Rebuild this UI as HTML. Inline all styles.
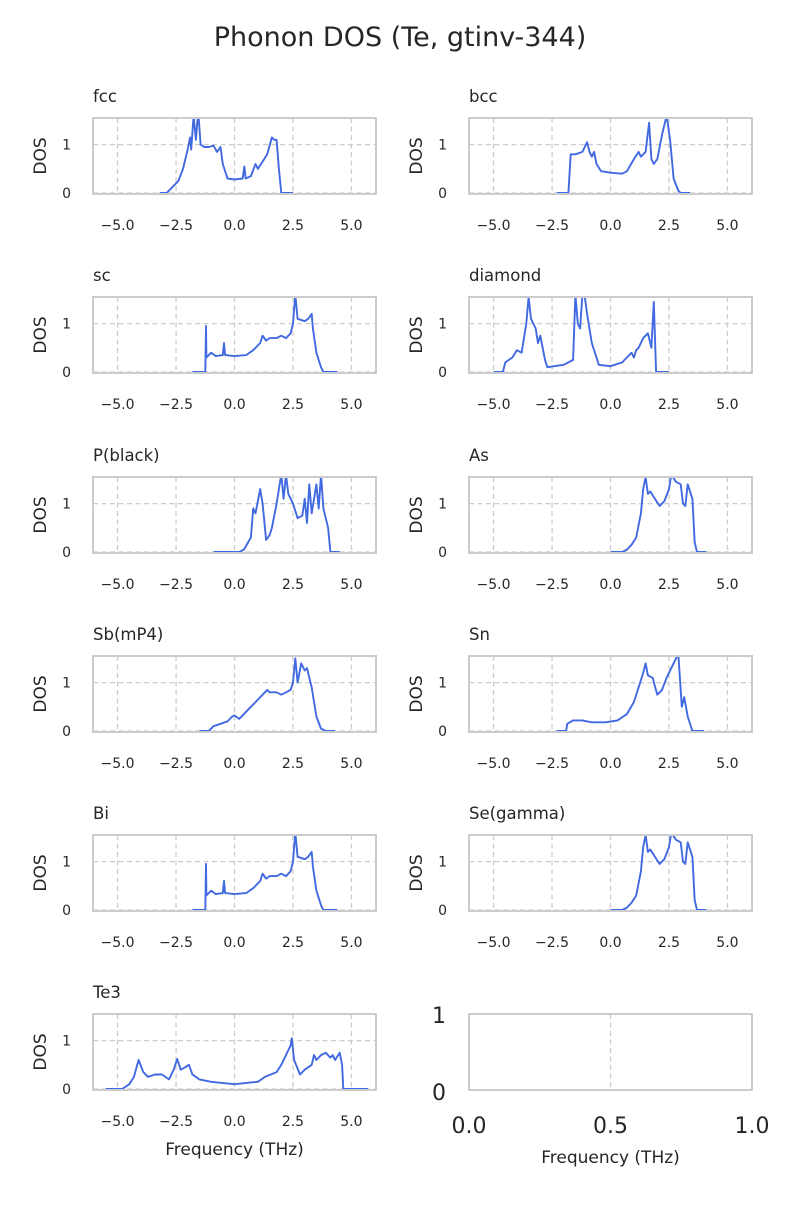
<!DOCTYPE html>
<html><head><meta charset="utf-8"><style>
body{margin:0;background:#fff;}
svg text{font-family:"DejaVu Sans","Liberation Sans",sans-serif;fill:#262626;}
</style></head><body>
<svg id="fig" width="800" height="1200" viewBox="0 0 800 1200" xmlns="http://www.w3.org/2000/svg">
<rect width="800" height="1200" fill="#fff"/>
<text x="400" y="46" font-size="27" text-anchor="middle">Phonon DOS (Te, gtinv-344)</text>
</svg>
<script>
const panelNames = ["fcc","bcc","sc","diamond","P(black)","As","Sb(mP4)","Sn","Bi","Se(gamma)","Te3"];
const freqs = [
[-3.2,-2.9,-2.7,-2.4,-2.2,-2.0,-1.9,-1.85,-1.75,-1.65,-1.55,-1.45,-1.3,-1.1,-0.9,-0.75,-0.6,-0.5,-0.3,0,0.35,0.42,0.48,0.7,0.9,1.0,1.2,1.4,1.6,1.7,1.8,1.9,2.0,2.5],
[-2.3,-1.8,-1.7,-1.5,-1.2,-1.0,-0.9,-0.8,-0.7,-0.6,-0.4,0,0.5,0.7,1.0,1.2,1.3,1.5,1.65,1.75,1.85,2.0,2.2,2.4,2.55,2.7,2.9,3.0,3.4],
[-1.8,-1.25,-1.22,-1.2,-1.0,-0.8,-0.5,-0.45,-0.4,0,0.5,0.8,1.1,1.2,1.35,1.5,1.8,2.0,2.2,2.4,2.5,2.6,2.7,3.0,3.15,3.3,3.35,3.5,3.7,3.8,4.4],
[-5.0,-4.6,-4.5,-4.2,-4.0,-3.8,-3.6,-3.5,-3.4,-3.2,-3.1,-3.0,-2.8,-2.7,-2.0,-1.6,-1.5,-1.4,-1.3,-1.2,-1.1,-1.0,-0.8,-0.5,0,0.5,0.7,0.9,1.0,1.1,1.2,1.4,1.6,1.75,1.85,1.95,2.5],
[-0.9,0.2,0.4,0.7,0.8,0.9,1.1,1.2,1.35,1.5,1.6,1.8,1.9,2.0,2.1,2.2,2.3,2.5,2.7,2.9,3.0,3.1,3.2,3.3,3.5,3.6,3.7,3.8,4.0,4.1,4.5],
[0,0.5,0.7,0.9,1.1,1.3,1.4,1.5,1.6,1.7,1.9,2.1,2.3,2.5,2.6,2.8,3.0,3.1,3.2,3.3,3.5,3.6,3.7,4.1],
[-1.5,-1.1,-0.9,-0.6,-0.3,-0.1,0,0.2,0.4,0.7,1.0,1.2,1.4,1.5,1.8,2.0,2.2,2.4,2.5,2.6,2.7,2.85,3.0,3.1,3.3,3.5,3.7,3.9,4.3],
[-2.3,-1.9,-1.85,-1.6,-1.2,-0.8,-0.2,0.3,0.7,1.0,1.2,1.4,1.5,1.6,1.8,2.0,2.2,2.4,2.6,2.8,2.9,3.05,3.15,3.3,3.5,4.0],
[-1.8,-1.25,-1.22,-1.2,-1.0,-0.8,-0.5,-0.45,-0.4,0,0.5,0.8,1.1,1.2,1.35,1.5,1.8,2.0,2.2,2.4,2.5,2.6,2.7,3.0,3.15,3.3,3.35,3.5,3.7,3.8,4.4],
[0,0.5,0.7,0.9,1.1,1.3,1.4,1.5,1.6,1.7,1.9,2.1,2.3,2.5,2.6,2.8,3.0,3.1,3.2,3.3,3.5,3.6,3.7,4.1],
[-5.5,-4.8,-4.5,-4.3,-4.1,-3.9,-3.7,-3.4,-3.1,-2.8,-2.6,-2.45,-2.3,-2.1,-1.95,-1.8,-1.5,-1,0,1.0,1.3,1.8,2.0,2.2,2.4,2.45,2.55,2.8,3.0,3.3,3.4,3.5,3.7,3.9,4.1,4.2,4.3,4.5,4.6,4.65,5.7]
];
const dosValues = [
[0,0,0.1,0.25,0.5,0.9,1.15,0.9,1.6,1.1,1.7,1.0,0.95,0.95,0.98,0.85,0.95,0.6,0.3,0.28,0.3,0.55,0.3,0.35,0.6,0.5,0.65,0.8,1.15,1.1,1.1,0.5,0,0],
[0,0,0.8,0.8,0.85,1.05,0.85,0.75,0.85,0.6,0.45,0.42,0.4,0.45,0.7,0.85,0.75,0.85,1.45,0.7,0.6,0.7,1.2,1.6,1.1,0.3,0.05,0,0],
[0,0,0.95,0.3,0.4,0.33,0.35,0.6,0.35,0.33,0.35,0.45,0.6,0.75,0.65,0.7,0.7,0.75,0.7,0.8,1.0,1.6,1.1,1.05,1.1,1.2,0.9,0.4,0.1,0,0],
[0,0,0.2,0.3,0.45,0.4,1.0,1.55,1.1,0.9,0.6,0.75,0.25,0.1,0.15,0.25,1.6,1.0,0.9,1.6,1.55,1.2,0.6,0.15,0.12,0.2,0.3,0.4,0.3,0.45,0.5,0.7,0.8,0.5,1.45,0,0],
[0,0,0.05,0.3,0.9,0.8,1.3,1.0,0.25,0.35,0.5,1.0,1.3,1.6,1.1,1.6,1.2,1.0,0.7,0.75,1.1,0.6,1.4,0.8,1.4,0.9,1.6,0.9,0.5,0,0],
[0,0,0.05,0.15,0.3,0.8,1.3,1.55,1.2,1.25,1.1,0.95,1.05,1.3,1.6,1.45,1.4,1.0,0.95,1.4,1.1,0.2,0,0],
[0,0,0.1,0.15,0.2,0.3,0.32,0.25,0.35,0.5,0.65,0.75,0.85,0.8,0.8,0.75,0.8,0.85,1.0,1.5,1.0,1.4,1.25,1.3,0.9,0.3,0.05,0,0],
[0,0,0.15,0.22,0.22,0.18,0.18,0.22,0.35,0.6,0.9,1.2,1.4,1.15,1.1,0.75,0.85,1.1,1.3,1.5,1.6,0.5,0.7,0.3,0,0],
[0,0,0.95,0.3,0.4,0.33,0.35,0.6,0.35,0.33,0.35,0.45,0.6,0.75,0.65,0.7,0.7,0.75,0.7,0.8,1.0,1.6,1.1,1.05,1.1,1.2,0.9,0.4,0.1,0,0],
[0,0,0.05,0.15,0.3,0.8,1.3,1.55,1.2,1.25,1.1,0.95,1.05,1.3,1.6,1.45,1.4,1.0,0.95,1.4,1.1,0.2,0,0],
[0,0,0.1,0.25,0.6,0.35,0.25,0.3,0.3,0.2,0.4,0.62,0.4,0.45,0.5,0.3,0.2,0.15,0.1,0.15,0.25,0.35,0.5,0.7,0.9,1.05,0.6,0.3,0.4,0.5,0.7,0.6,0.7,0.75,0.65,0.7,0.6,0.75,0.5,0,0]
];
const xTicks = [-5,-2.5,0,2.5,5];
const xTickLabels = ["\u22125.0","\u22122.5","0.0","2.5","5.0"];
const yTicks = [0,1];
const emptyXTicks = [0,0.5,1];
const emptyXTickLabels = ["0.0","0.5","1.0"];

const NS="http://www.w3.org/2000/svg";
const svg=document.getElementById('fig');
function mk(tag,attrs,parent){const e=document.createElementNS(NS,tag);for(const k in attrs)e.setAttribute(k,attrs[k]);(parent||svg).appendChild(e);return e;}
const colX=[93,469], rowY=[118,297,477,656,835,1014], W=283, H=76;
const XMIN=-6.05, XMAX=6.05, YMIN=-0.02, YMAX=1.55;
function sx(x0,v){return x0+(v-XMIN)/(XMAX-XMIN)*W;}
function sy(y0,v){return y0+H-(v-YMIN)/(YMAX-YMIN)*H;}

panelNames.forEach((name,i)=>{
  const x0=colX[i%2], y0=rowY[Math.floor(i/2)];
  const slug=name.toLowerCase().replace(/[^a-z0-9]+/g,'-').replace(/-$/,'');
  const g=mk('g',{});
  
  
  const cp=mk('clipPath',{id:'cp'+i},g); mk('rect',{x:x0,y:y0,width:W,height:H},cp);
  xTicks.forEach(t=>{mk('line',{x1:sx(x0,t),x2:sx(x0,t),y1:y0,y2:y0+H,stroke:'#cccccc','stroke-width':1.3,'stroke-dasharray':'5,3.5'},g);});
  yTicks.forEach(t=>{mk('line',{x1:x0,x2:x0+W,y1:sy(y0,t),y2:sy(y0,t),stroke:'#cccccc','stroke-width':1.3,'stroke-dasharray':'5,3.5'},g);});
  const xs=freqs[i], ys=dosValues[i];
  const d=xs.map((x,k)=>(k?'L':'M')+sx(x0,x).toFixed(1)+','+sy(y0,ys[k]).toFixed(1)).join('');
  const p=mk('path',{d:d,fill:'none',stroke:'#4169e1','stroke-width':1.9,'clip-path':'url(#cp'+i+')','stroke-linejoin':'round'},g);
  
  
  mk('rect',{x:x0,y:y0,width:W,height:H,fill:'none',stroke:'#cccccc','stroke-width':2},g);
  const tt=mk('text',{x:x0,y:y0-16,'font-size':16.5},g); tt.textContent=name;
  
  
  xTicks.forEach((t,k)=>{const e=mk('text',{x:sx(x0,t),y:y0+H+36,'font-size':14,'text-anchor':'middle'},g);e.textContent=xTickLabels[k];
    
    });
  yTicks.forEach(t=>{const e=mk('text',{x:x0-22,y:sy(y0,t)+5,'font-size':14,'text-anchor':'end'},g);e.textContent=String(t);
    
    });
  const yl=mk('text',{x:0,y:0,'font-size':17,'text-anchor':'middle',transform:'translate('+(x0-47)+','+(y0+H/2)+') rotate(-90)'},g); yl.textContent='DOS';
  
  
  if(i===10){const xl=mk('text',{x:x0+W/2,y:y0+H+65,'font-size':17,'text-anchor':'middle'},g);xl.textContent='Frequency (THz)';
    
    }
});
// empty panel
(function(){
  const x0=469,y0=1014;
  const g=mk('g',{});
  
  
  emptyXTicks.forEach(t=>{const x=x0+t*W; mk('line',{x1:x,x2:x,y1:y0,y2:y0+H,stroke:'#cccccc','stroke-width':1.3,'stroke-dasharray':'5,3.5'},g);});
  mk('rect',{x:x0,y:y0,width:W,height:H,fill:'none',stroke:'#cccccc','stroke-width':2},g);
  emptyXTicks.forEach((t,k)=>{const e=mk('text',{x:x0+t*W,y:1133,'font-size':22,'text-anchor':'middle'},g);e.textContent=emptyXTickLabels[k];
    
    });
  [[1,1023],[0,1100]].forEach(([v,y])=>{const e=mk('text',{x:446,y:y,'font-size':22,'text-anchor':'end'},g);e.textContent=String(v);
    
    });
  const xl=mk('text',{x:x0+W/2,y:1163,'font-size':17,'text-anchor':'middle'},g);xl.textContent='Frequency (THz)';
  
  
})();
</script>
</body></html>
